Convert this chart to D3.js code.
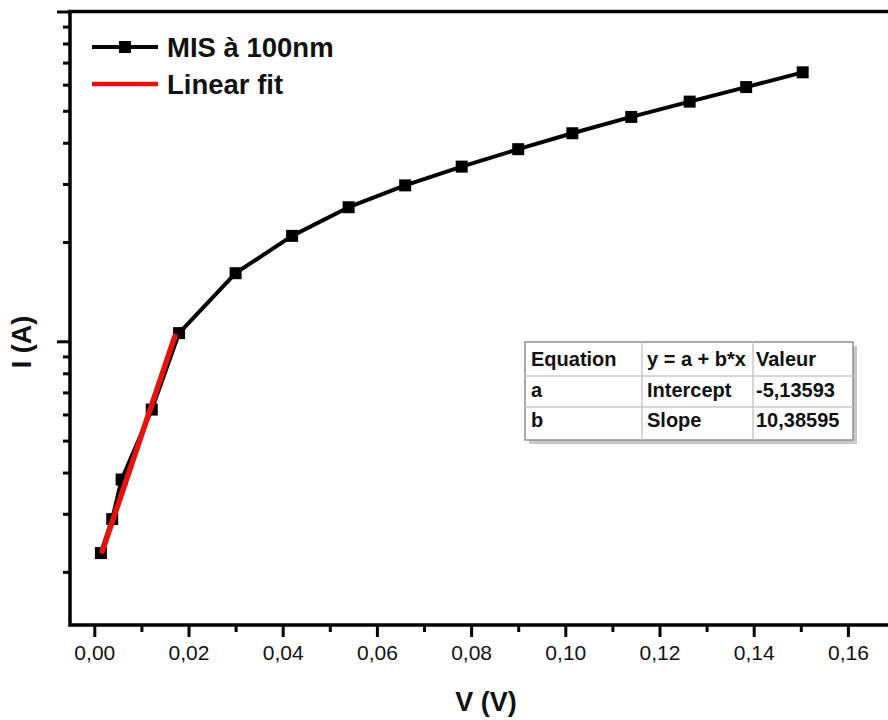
<!DOCTYPE html>
<html>
<head>
<meta charset="utf-8">
<script src="https://cdn.jsdelivr.net/npm/d3@7"></script>
<style>
  html, body { margin: 0; padding: 0; background: #fff; }
  svg { display: block; font-family: "Liberation Sans", Arial, sans-serif; }
</style>
</head>
<body>
<svg id="chart" width="888" height="720"></svg>
<script>
// ---- data ----
const voltage = [0.0014, 0.0038, 0.0058, 0.0122, 0.0180, 0.0300, 0.0420, 0.0540, 0.0660, 0.0780, 0.0900, 0.1015, 0.1140, 0.1264, 0.1384, 0.1504];
const current = [2.28e-6, 2.89e-6, 3.81e-6, 6.21e-6, 1.059e-5, 1.609e-5, 2.088e-5, 2.55e-5, 2.97e-5, 3.386e-5, 3.824e-5, 4.274e-5, 4.79e-5, 5.33e-5, 5.90e-5, 6.54e-5];
const fitV = [0.0017, 0.0171];
const fitI = [2.31e-6, 1.035e-5];
const xTicks = [0, 0.02, 0.04, 0.06, 0.08, 0.10, 0.12, 0.14, 0.16];
const xMinorTicks = [0.01, 0.03, 0.05, 0.07, 0.09, 0.11, 0.13, 0.15];
const yMajorTicks = [1e-5, 1e-4];
const yMinorTicks = [2e-6, 3e-6, 4e-6, 5e-6, 6e-6, 7e-6, 8e-6, 9e-6, 2e-5, 3e-5, 4e-5, 5e-5, 6e-5, 7e-5, 8e-5, 9e-5];
const legendLabels = ["MIS à 100nm", "Linear fit"];
const tableRows = [["Equation", "y = a + b*x", "Valeur"], ["a", "Intercept", "-5,13593"], ["b", "Slope", "10,38595"]];
const xTitle = "V (V)";
const yTitle = "I (A)";

// ---- layout ----
const L = 70, R = 895, T = 11.5, B = 625;
const svg = d3.select("#chart");

const x = d3.scaleLinear().domain([-0.00516, 0.17]).range([L, R]);
const y = d3.scaleLog().domain([1.38e-6, 1e-4]).range([B, T]);

svg.append("defs").append("clipPath").attr("id", "clip")
  .append("rect").attr("x", L).attr("y", T).attr("width", R - L).attr("height", B - T);

const fmt = d3.format(".2f");

// X axis
const gx = svg.append("g").attr("transform", `translate(0,${B})`)
  .call(d3.axisBottom(x).tickValues(xTicks).tickSize(12).tickPadding(8)
    .tickFormat(d => fmt(d).replace(".", ",")));
gx.select(".domain").remove();
gx.selectAll(".tick line").attr("stroke", "#000").attr("stroke-width", 3);
gx.selectAll(".tick text").attr("font-size", 21).attr("fill", "#111").attr("dy", "0.7em");
const gxm = svg.append("g").attr("transform", `translate(0,${B})`)
  .call(d3.axisBottom(x).tickValues(xMinorTicks).tickSize(7).tickFormat(""));
gxm.select(".domain").remove();
gxm.selectAll(".tick line").attr("stroke", "#000").attr("stroke-width", 3);

// Y axis (log, no labels)
const gy = svg.append("g").attr("transform", `translate(${L},0)`)
  .call(d3.axisLeft(y).tickValues(yMajorTicks).tickSize(13).tickFormat(""));
gy.select(".domain").remove();
gy.selectAll(".tick line").attr("stroke", "#000").attr("stroke-width", 3);
const gym = svg.append("g").attr("transform", `translate(${L},0)`)
  .call(d3.axisLeft(y).tickValues(yMinorTicks).tickSize(7).tickFormat(""));
gym.select(".domain").remove();
gym.selectAll(".tick line").attr("stroke", "#000").attr("stroke-width", 3);

// Frame
svg.append("rect").attr("x", L).attr("y", T).attr("width", R - L).attr("height", B - T)
  .attr("fill", "none").attr("stroke", "#000").attr("stroke-width", 3.5);

// Data line
const plot = svg.append("g").attr("clip-path", "url(#clip)");
const pts = voltage.map((v, i) => [v, current[i]]);
const line = d3.line().x(d => x(d[0])).y(d => y(d[1]));
plot.append("path").datum(pts).attr("d", line)
  .attr("fill", "none").attr("stroke", "#000").attr("stroke-width", 4).attr("stroke-linejoin", "round");
const ms = 12;
plot.selectAll("rect.pt").data(pts).join("rect").attr("class", "pt")
  .attr("x", d => x(d[0]) - ms / 2).attr("y", d => y(d[1]) - ms / 2)
  .attr("width", ms).attr("height", ms).attr("fill", "#000");

// Fit line
const fitPts = fitV.map((v, i) => [v, fitI[i]]);
plot.append("path").datum(fitPts).attr("d", line)
  .attr("fill", "none").attr("stroke", "#e8120c").attr("stroke-width", 5.5).attr("stroke-linecap", "round");

// Legend
const lg = svg.append("g");
lg.append("line").attr("x1", 92).attr("x2", 158).attr("y1", 47).attr("y2", 47)
  .attr("stroke", "#000").attr("stroke-width", 4);
lg.append("rect").attr("x", 125 - 6).attr("y", 47 - 6).attr("width", 12).attr("height", 12).attr("fill", "#000");
lg.append("text").attr("x", 167).attr("y", 57).attr("font-size", 27.5).attr("font-weight", "bold")
  .attr("fill", "#111").text(legendLabels[0]);
lg.append("line").attr("x1", 92).attr("x2", 158).attr("y1", 84).attr("y2", 84)
  .attr("stroke", "#e8120c").attr("stroke-width", 4.5);
lg.append("text").attr("x", 167).attr("y", 94).attr("font-size", 27.5).attr("font-weight", "bold")
  .attr("fill", "#111").text(legendLabels[1]);

// Axis titles
svg.append("text").attr("x", 486).attr("y", 711).attr("text-anchor", "middle")
  .attr("font-size", 27).attr("font-weight", "bold").attr("fill", "#111").text(xTitle);
svg.append("text").attr("transform", "translate(31,342) rotate(-90)").attr("text-anchor", "middle")
  .attr("font-size", 27).attr("font-weight", "bold").attr("fill", "#111").text(yTitle);

// Fit table
const tx = 525, ty = 342, colX = [525, 642, 753, 853], rowY = [342, 376, 407, 440];
const tb = svg.append("g");
tb.append("rect").attr("x", tx + 4).attr("y", ty + 4).attr("width", colX[3] - tx).attr("height", rowY[3] - ty)
  .attr("fill", "#c8c8c8");
tb.append("rect").attr("x", tx).attr("y", ty).attr("width", colX[3] - tx).attr("height", rowY[3] - ty)
  .attr("fill", "#fff").attr("stroke", "#909090").attr("stroke-width", 1.5);
[rowY[1], rowY[2]].forEach(yy => tb.append("line").attr("x1", colX[0]).attr("x2", colX[3])
  .attr("y1", yy).attr("y2", yy).attr("stroke", "#c8c8c8").attr("stroke-width", 1.5));
[colX[1], colX[2]].forEach(xx => tb.append("line").attr("x1", xx).attr("x2", xx)
  .attr("y1", rowY[0]).attr("y2", rowY[3]).attr("stroke", "#c8c8c8").attr("stroke-width", 1.5));
const textX = [531, 647, 756];
const baseY = [366, 397, 427];
tableRows.forEach((row, ri) => row.forEach((cell, ci) => {
  tb.append("text").attr("x", textX[ci]).attr("y", baseY[ri]).attr("font-size", 20)
    .attr("font-weight", "bold").attr("fill", "#111").text(cell);
}));
</script>
</body>
</html>
